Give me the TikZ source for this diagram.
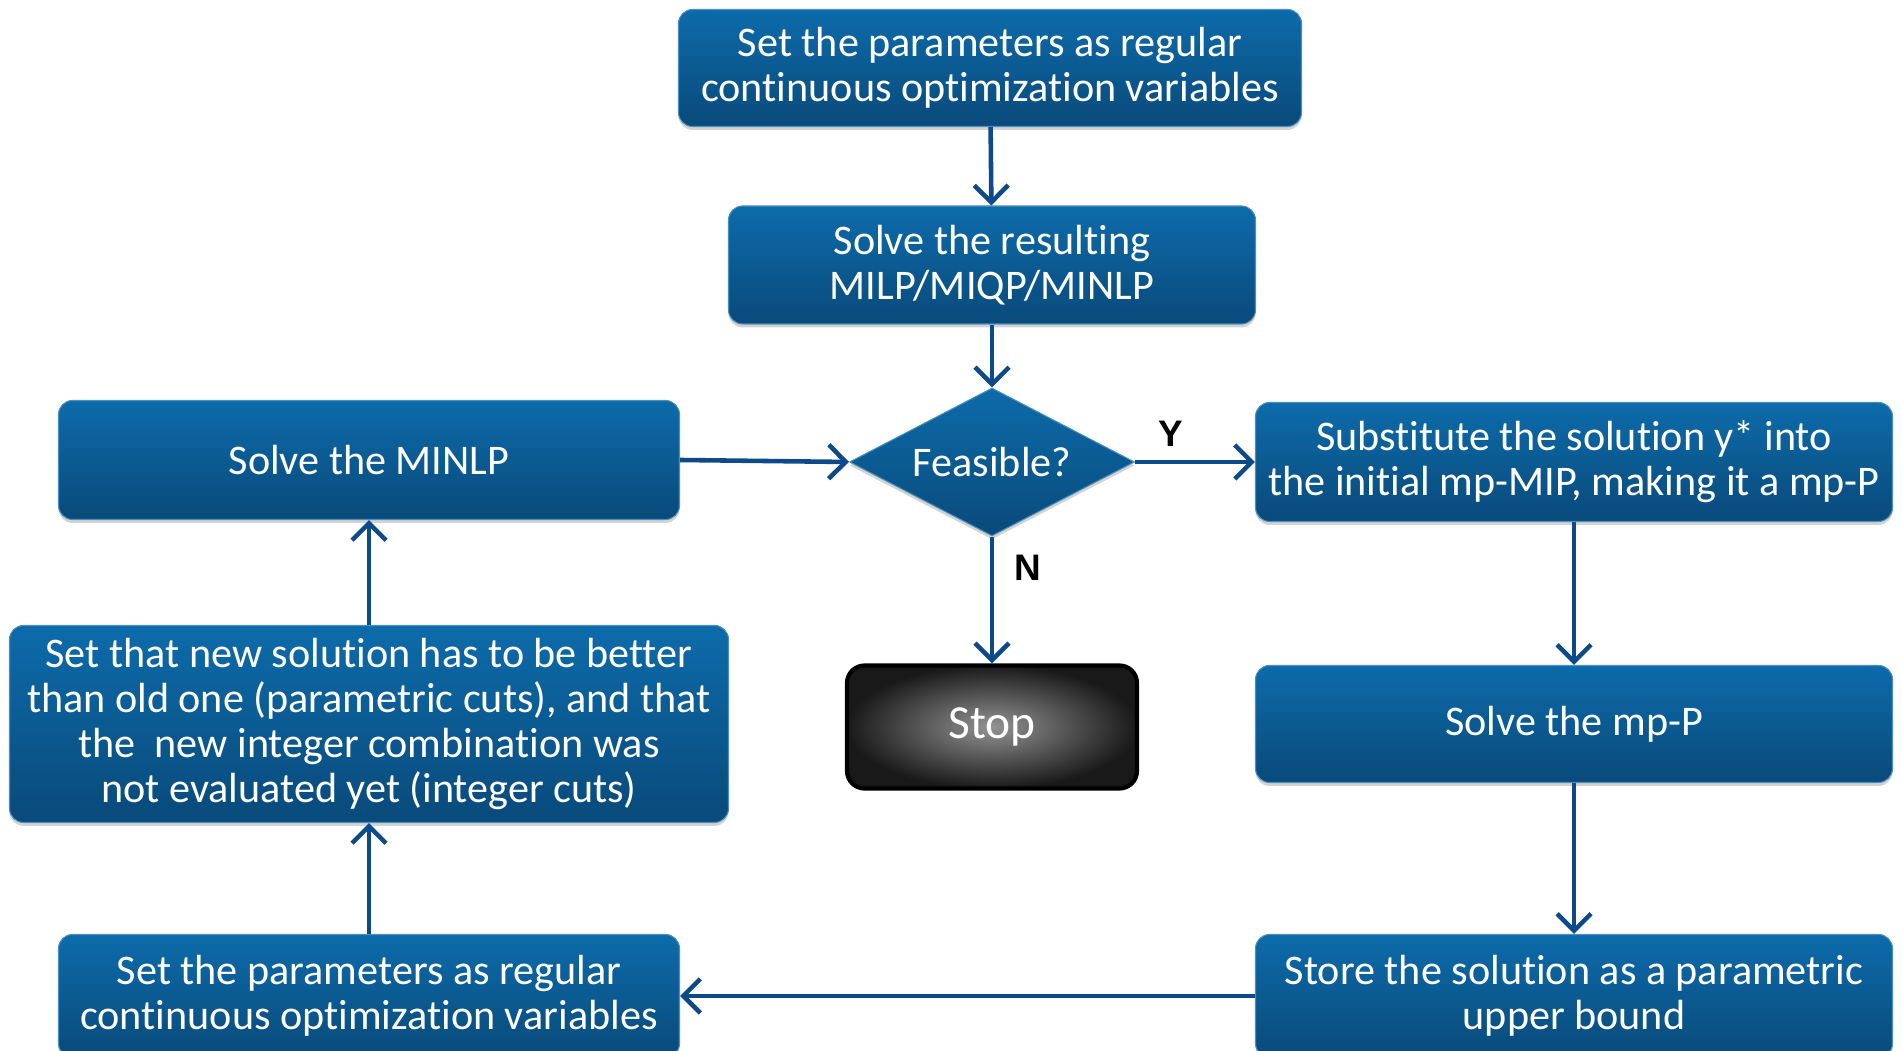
\documentclass[tikz,border=0pt]{standalone}
\usepackage{fontspec}
\setmainfont[Ligatures=NoCommon]{Carlito}
\newfontfamily\lblfont{Liberation Sans}
\usetikzlibrary{arrows.meta, shapes.geometric, shadows}
\definecolor{boxtop}{HTML}{0D6BAA}
\definecolor{boxbot}{HTML}{094A7A}
\definecolor{arr}{HTML}{0D4A8A}

\begin{document}
\begin{tikzpicture}[
	box/.style={rectangle, rounded corners=8pt, top color=boxtop, bottom color=boxbot, draw=boxtop!75!white, line width=0.6pt, text=white, align=center, inner sep=0pt, font=\fontsize{24}{25.5}\selectfont, drop shadow={shadow xshift=0pt, shadow yshift=-0.7mm, opacity=0.35}},
	dec/.style={box, diamond, aspect=1.93, rounded corners=0pt, minimum width=5.7cm, minimum height=2.96cm},
	stopbox/.style={rectangle, rounded corners=10pt, inner color=gray!85, outer color=black!90, draw=black, line width=2.4pt, text=white, font=\fontsize{27}{30}\selectfont},
	flow/.style={-{Straight Barb[length=3.4mm, width=6.8mm, line width=2.6pt]}, draw=arr, line width=2.6pt},
	yn/.style={font=\lblfont\bfseries\fontsize{21}{24}\selectfont}]
	\useasboundingbox (0,0) rectangle (38.04,21.02);
	% centre column
	\node[box, minimum width=12.46cm, minimum height=2.34cm] (S1) at (19.8,19.66) {Set the parameters as regular\\continuous optimization variables};
	\node[box, minimum width=10.54cm, minimum height=2.36cm] (S2) at (19.84,15.72) {Solve the resulting\\MILP/MIQP/MINLP};
	\node[dec] (F) at (19.84,11.78) {Feasible?};
	\node[stopbox, minimum width=5.8cm, minimum height=2.46cm] (Stop) at (19.84,6.48) {Stop};
	% left column
	\node[box, minimum width=12.42cm, minimum height=2.38cm] (M) at (7.38,11.82) {Solve the MINLP};
	\node[box, minimum width=14.38cm, minimum height=3.94cm] (C) at (7.38,6.54) {Set that new solution has to be better\\than old one (parametric cuts), and that\\the\ \ new integer combination was\\not evaluated yet (integer cuts)};
	\node[box, minimum width=12.42cm, minimum height=2.46cm] (Par) at (7.38,1.1) {Set the parameters as regular\\continuous optimization variables};
	% right column
	\node[box, minimum width=12.74cm, minimum height=2.38cm] (Sub) at (31.48,11.78) {Substitute the solution y* into\\the initial mp-MIP, making it a mp-P};
	\node[box, minimum width=12.74cm, minimum height=2.34cm] (P) at (31.48,6.54) {Solve the mp-P};
	\node[box, minimum width=12.74cm, minimum height=2.46cm] (Sto) at (31.48,1.1) {Store the solution as a parametric\\upper bound};
	% connectors
	\draw[flow] (S1) -- (S2);
	\draw[flow] (S2) -- (F);
	\draw[flow] (M.east) -- (F.west);
	\draw[flow] (F.east) -- (Sub.west) node[yn, pos=0.3, above=4pt] {Y};
	\draw[flow] (F.south) -- (Stop.north) node[yn, pos=0.25, right=8pt] {N};
	\draw[flow] (Sub) -- (P);
	\draw[flow] (P) -- (Sto);
	\draw[flow] (Sto.west) -- (Par.east);
	\draw[flow] (Par) -- (C);
	\draw[flow] (C) -- (M);
\end{tikzpicture}
\end{document}
